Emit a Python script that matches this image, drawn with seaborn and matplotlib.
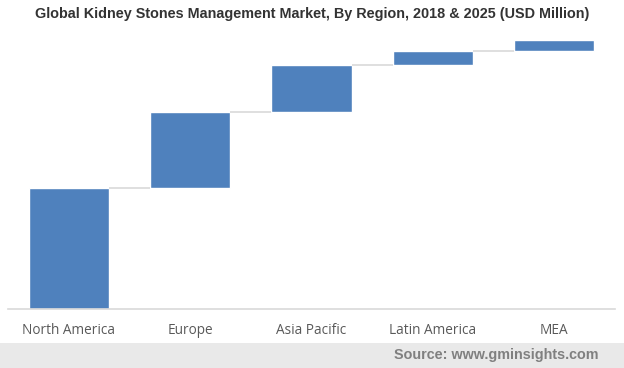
import numpy as np
import pandas as pd
import matplotlib
matplotlib.use("Agg")
import matplotlib.pyplot as plt
from matplotlib.patches import Rectangle
import seaborn as sns

# data (USD million - no axis so scale is approximate)
regions = ["North America", "Europe", "Asia Pacific", "Latin America", "MEA"]
values = [1210, 760, 470, 145, 110]

sns.set_theme(style="white")
plt.rcParams["font.family"] = ["Liberation Sans", "DejaVu Sans"]

df = pd.DataFrame({"region": regions, "value": values})
base = np.concatenate([[0], np.cumsum(values)[:-1]])
top = np.cumsum(values)

fig = plt.figure(figsize=(6.24, 3.68), dpi=100)
ax = fig.add_axes([8 / 624, 59 / 368, 607 / 624, 276 / 368])

bw = 0.66
sns.barplot(data=df, x="region", y="value", color="#4f81bd", saturation=1,
            width=bw, ax=ax)
# lift each bar onto the running total -> waterfall
for p, b in zip(ax.patches, base):
    p.set_y(b)

# grey connectors between bars
for i in range(len(values) - 1):
    ax.hlines(top[i], i + bw / 2, i + 1 - bw / 2, color="#d9d9d9", lw=1.2)

ax.set_xlim(-0.5, len(values) - 0.5)
ax.set_ylim(0, 2760)
ax.set_xlabel("")
ax.set_ylabel("")
ax.set_yticks([])
for s in ["top", "left", "right"]:
    ax.spines[s].set_visible(False)
ax.spines["bottom"].set_color("#d9d9d9")
ax.spines["bottom"].set_linewidth(1.2)
ax.tick_params(axis="x", length=0, pad=10)
for lbl in ax.get_xticklabels():
    lbl.set_family(["Open Sans", "DejaVu Sans"])
    lbl.set_fontsize(9.8)
    lbl.set_color("#595959")

fig.text(0.5, 1 - 14 / 368, "Global Kidney Stones Management Market, By Region, 2018 & 2025 (USD Million)",
         ha="center", va="center", fontsize=10.4, fontweight="bold", color="#333333")

# footer band
fig.patches.append(Rectangle((0, 0), 1, 25 / 368, transform=fig.transFigure,
                             facecolor="#e9e9e9", edgecolor="none", zorder=0))
fig.text(599 / 624, 13 / 368, "Source: www.gminsights.com", ha="right", va="center",
         fontsize=10.4, fontweight="bold", color="#808080")

fig.savefig("out.png", dpi=100)
